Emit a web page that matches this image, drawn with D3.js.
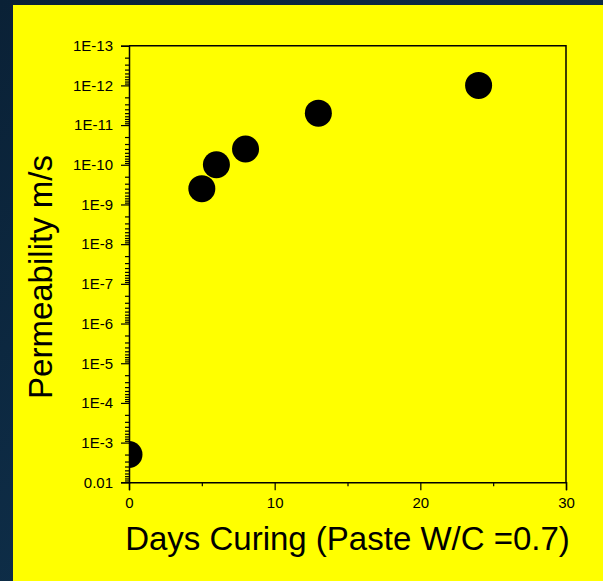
<!DOCTYPE html>
<html>
<head>
<meta charset="utf-8">
<script src="https://cdn.jsdelivr.net/npm/d3@7"></script>
<style>
  html, body { margin: 0; padding: 0; background: #0c2a43; }
  svg { display: block; }
  text { font-family: "Liberation Sans", Arial, sans-serif; fill: #000; }
</style>
</head>
<body>
<svg id="chart" width="603" height="581"></svg>
<script>
// Permeability of cement paste (W/C = 0.7) against curing time
const days = [0, 5, 6, 8, 13, 24];
const permeability = [2e-3, 4e-10, 1e-10, 4e-11, 5e-12, 1e-12];

const xTicks = [0, 10, 20, 30];
const xMinorTicks = [5, 15, 25];
const yTicks = [1e-13, 1e-12, 1e-11, 1e-10, 1e-9, 1e-8, 1e-7, 1e-6, 1e-5, 1e-4, 1e-3, 1e-2];
const yTickLabels = ["1E-13", "1E-12", "1E-11", "1E-10", "1E-9", "1E-8", "1E-7", "1E-6", "1E-5", "1E-4", "1E-3", "0.01"];

const xTitle = "Days Curing (Paste W/C =0.7)";
const yTitle = "Permeability m/s";

const W = 603, H = 581;
const plot = { left: 129, top: 45.7, right: 566, bottom: 482.3 };

const svg = d3.select("#chart");

// dark backdrop with a soft gradient
const defs = svg.append("defs");
const grad = defs.append("linearGradient").attr("id", "bg")
  .attr("x1", "0").attr("y1", "0").attr("x2", "1").attr("y2", "1");
grad.append("stop").attr("offset", "0").attr("stop-color", "#0a2136");
grad.append("stop").attr("offset", "1").attr("stop-color", "#113857");
svg.append("rect").attr("width", W).attr("height", H).attr("fill", "url(#bg)");

// yellow panel
svg.append("rect").attr("x", 13).attr("y", 5).attr("width", W - 13).attr("height", H - 5)
  .attr("fill", "#ffff00");

defs.append("clipPath").attr("id", "plotClip").append("rect")
  .attr("x", plot.left).attr("y", plot.top)
  .attr("width", plot.right - plot.left).attr("height", plot.bottom - plot.top);

const x = d3.scaleLinear().domain([0, 30]).range([plot.left, plot.right]);
const y = d3.scaleLog().domain([1e-13, 1e-2]).range([plot.top, plot.bottom]);

// minor log ticks: 2..9 within each decade
const yMinor = [];
for (let e = -13; e < -2; e++) {
  for (let m = 2; m <= 9; m++) yMinor.push(m * Math.pow(10, e));
}

const lw = 1.5;

// frame: top and right edges
svg.append("path")
  .attr("d", `M${plot.left},${plot.top}H${plot.right}V${plot.bottom}`)
  .attr("fill", "none").attr("stroke", "#000").attr("stroke-width", lw);

// x axis
svg.append("g").attr("transform", `translate(0,${plot.bottom})`)
  .call(d3.axisBottom(x).tickValues(xTicks).tickFormat(d3.format("d"))
    .tickSize(8).tickPadding(7));
svg.append("g").attr("transform", `translate(0,${plot.bottom})`)
  .call(d3.axisBottom(x).tickValues(xMinorTicks).tickFormat("").tickSize(4))
  .call(g => g.select(".domain").remove());

// y axis
svg.append("g").attr("transform", `translate(${plot.left},0)`)
  .call(d3.axisLeft(y).tickValues(yTicks)
    .tickFormat((d, i) => yTickLabels[i]).tickSize(8).tickPadding(8));
svg.append("g").attr("transform", `translate(${plot.left},0)`)
  .call(d3.axisLeft(y).tickValues(yMinor).tickFormat("").tickSize(4))
  .call(g => g.select(".domain").remove());

svg.selectAll(".domain").attr("stroke", "#000").attr("stroke-width", lw);
svg.selectAll(".tick line").attr("stroke", "#000").attr("stroke-width", 1.2);
svg.selectAll(".tick text")
  .attr("font-size", 15).attr("fill", "#000");
svg.selectAll("g").attr("font-family", null);

// axis titles
svg.append("text")
  .attr("x", (plot.left + plot.right) / 2).attr("y", 550)
  .attr("text-anchor", "middle").attr("font-size", 33)
  .text(xTitle);
svg.append("text")
  .attr("transform", `translate(52,${277}) rotate(-90)`)
  .attr("text-anchor", "middle").attr("font-size", 33)
  .text(yTitle);

// data points
svg.append("g").attr("clip-path", "url(#plotClip)")
  .selectAll("circle")
  .data(days.map((d, i) => ({ day: d, k: permeability[i] })))
  .join("circle")
  .attr("cx", d => x(d.day))
  .attr("cy", d => y(d.k))
  .attr("r", 13.5)
  .attr("fill", "#000");
</script>
</body>
</html>
